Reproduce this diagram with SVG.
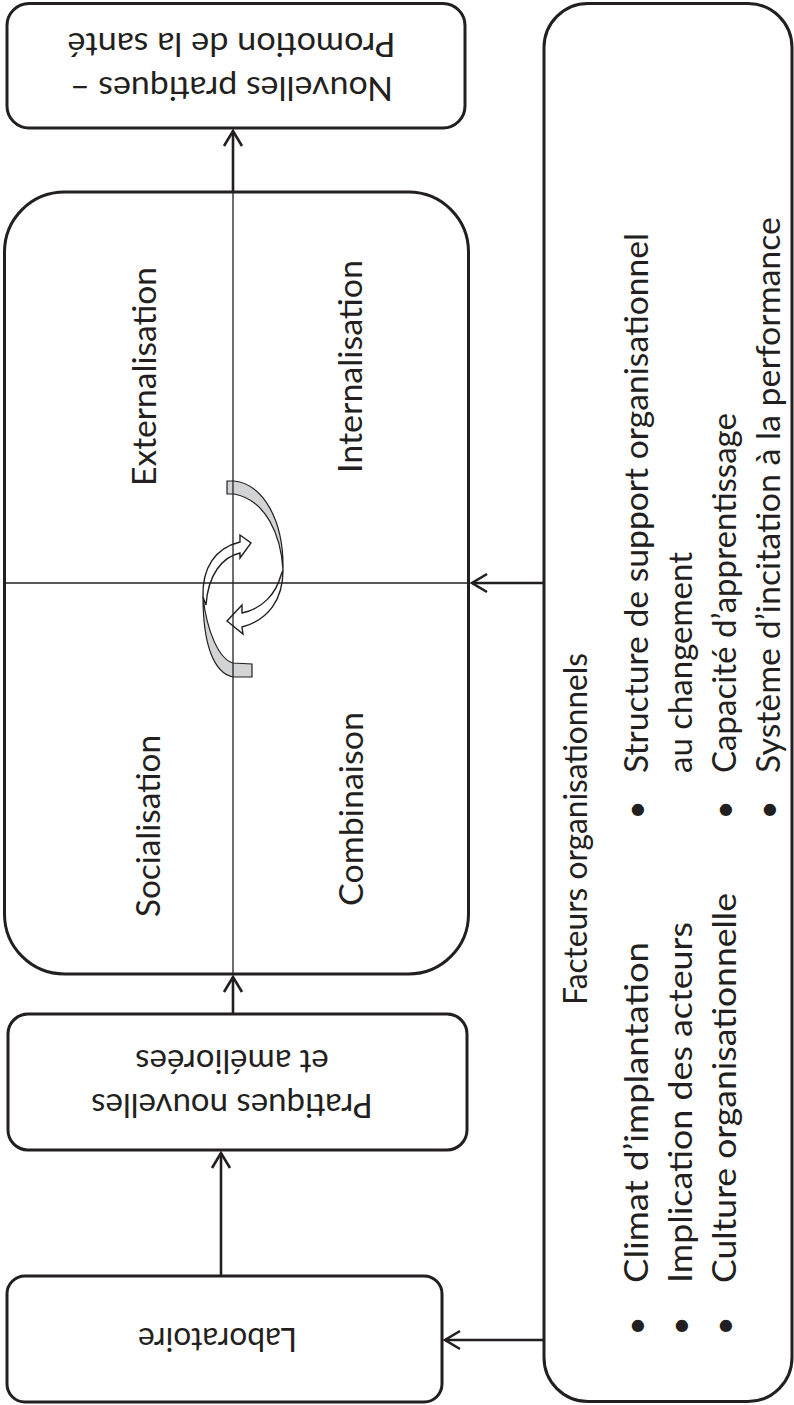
<svg xmlns="http://www.w3.org/2000/svg" width="794" height="1405" viewBox="0 0 794 1405">
<defs>
<style>
.box{fill:#fff;stroke:#231f20;stroke-width:3}
.conn{fill:none;stroke:#231f20;stroke-width:2.6;marker-end:url(#ah)}
.thin{fill:none;stroke:#231f20;stroke-width:1.3}
.t{font-family:Lato,"Open Sans","Liberation Sans",sans-serif;font-size:33px;fill:#231f20}
.m{text-anchor:middle}
.gray{fill:#d1d3d4;stroke:#231f20;stroke-width:1.2}
.wht{fill:#fff;stroke:#231f20;stroke-width:1.4;stroke-linejoin:miter}
</style>
<marker id="ah" markerUnits="userSpaceOnUse" markerWidth="30" markerHeight="30" viewBox="-20 -15 30 30" refX="0" refY="0" orient="auto" overflow="visible">
<path d="M-15,-9 L0,0 L-15,9" fill="none" stroke="#231f20" stroke-width="2.6"/>
</marker>
</defs>
<rect width="794" height="1405" fill="#fff"/>

<g id="connectors">
<line class="conn" x1="233" y1="192" x2="233" y2="131"/>
<line class="conn" x1="233" y1="1014" x2="233" y2="977"/>
<line class="conn" x1="221" y1="1276" x2="221" y2="1153"/>
<line class="conn" x1="544" y1="583" x2="472" y2="583"/>
<line class="conn" x1="544" y1="1340" x2="445" y2="1340"/>
</g>

<g id="node-nouvelles-pratiques">
<rect class="box" x="7" y="3.5" width="458" height="124.5" rx="22"/>
<g transform="rotate(180 231.5 65.5)">
<text class="t m" x="231.5" y="54" textLength="323" lengthAdjust="spacingAndGlyphs">Nouvelles pratiques –</text>
<text class="t m" x="231.5" y="98" textLength="328" lengthAdjust="spacingAndGlyphs">Promotion de la santé</text>
</g>
</g>

<g id="node-cycle">
<rect class="box" x="4.5" y="192" width="464" height="782" rx="60"/>
<g id="cycle-arrows">
<path class="gray" d="M227,481 L234,481 C263,484 284,520 283,570 C281,535 266,500 234,494 L227,494 Z"/>
<path class="wht" d="M283,570 C283,600 268,620 242,627 L243,634 L227,621 L242,605 L242,613 C262,609 276,594 281,575 Z"/>
<path class="gray" d="M252,664 L252,677 L233,677 C214,673 203,645 203,597 C207,632 219,659 233,663 Z"/>
<path class="wht" d="M203,597 C202,568 215,548 240,542 L240,535 L251,543 L240,558 L240,553 C222,557 208,575 206,605 Z"/>
</g>
<line class="thin" x1="233" y1="192" x2="233" y2="974"/>
<line class="thin" x1="4.5" y1="583" x2="468.5" y2="583"/>
<g transform="rotate(-90)">
<text class="t" x="-917" y="160" textLength="182" lengthAdjust="spacingAndGlyphs">Socialisation</text>
<text class="t" x="-906" y="363" textLength="194" lengthAdjust="spacingAndGlyphs">Combinaison</text>
<text class="t" x="-486" y="156" textLength="219" lengthAdjust="spacingAndGlyphs">Externalisation</text>
<text class="t" x="-473" y="362" textLength="213" lengthAdjust="spacingAndGlyphs">Internalisation</text>
</g>
</g>

<g id="node-pratiques">
<rect class="box" x="8" y="1014" width="459" height="136" rx="20"/>
<g transform="rotate(180 232 1082)">
<text class="t m" x="232" y="1070.5">Pratiques nouvelles</text>
<text class="t m" x="232" y="1114.5">et améliorées</text>
</g>
</g>

<g id="node-laboratoire">
<rect class="box" x="7" y="1276" width="435" height="126" rx="18"/>
<g transform="rotate(180 217.5 1340)">
<text class="t m" x="217.5" y="1352" textLength="159" lengthAdjust="spacingAndGlyphs">Laboratoire</text>
</g>
</g>

<g id="node-facteurs">
<rect class="box" x="544" y="3.5" width="248" height="1398" rx="44"/>
<g transform="rotate(-90)">
<text class="t" x="-1005" y="587" textLength="352" lengthAdjust="spacingAndGlyphs">Facteurs organisationnels</text>
<text class="t m" x="-1326" y="648">•</text>
<text class="t m" x="-1326" y="692">•</text>
<text class="t m" x="-1326" y="736">•</text>
<text class="t" x="-1283" y="648" textLength="341" lengthAdjust="spacingAndGlyphs">Climat d’implantation</text>
<text class="t" x="-1283" y="692" textLength="361" lengthAdjust="spacingAndGlyphs">Implication des acteurs</text>
<text class="t" x="-1283" y="736" textLength="390" lengthAdjust="spacingAndGlyphs">Culture organisationnelle</text>
<text class="t m" x="-810" y="648">•</text>
<text class="t m" x="-810" y="736">•</text>
<text class="t m" x="-810" y="780">•</text>
<text class="t" x="-773" y="648" textLength="540" lengthAdjust="spacingAndGlyphs">Structure de support organisationnel</text>
<text class="t" x="-773" y="692" textLength="221" lengthAdjust="spacingAndGlyphs">au changement</text>
<text class="t" x="-773" y="736" textLength="360" lengthAdjust="spacingAndGlyphs">Capacité d’apprentissage</text>
<text class="t" x="-773" y="780" textLength="556" lengthAdjust="spacingAndGlyphs">Système d’incitation à la performance</text>
</g>
</g>
</svg>
